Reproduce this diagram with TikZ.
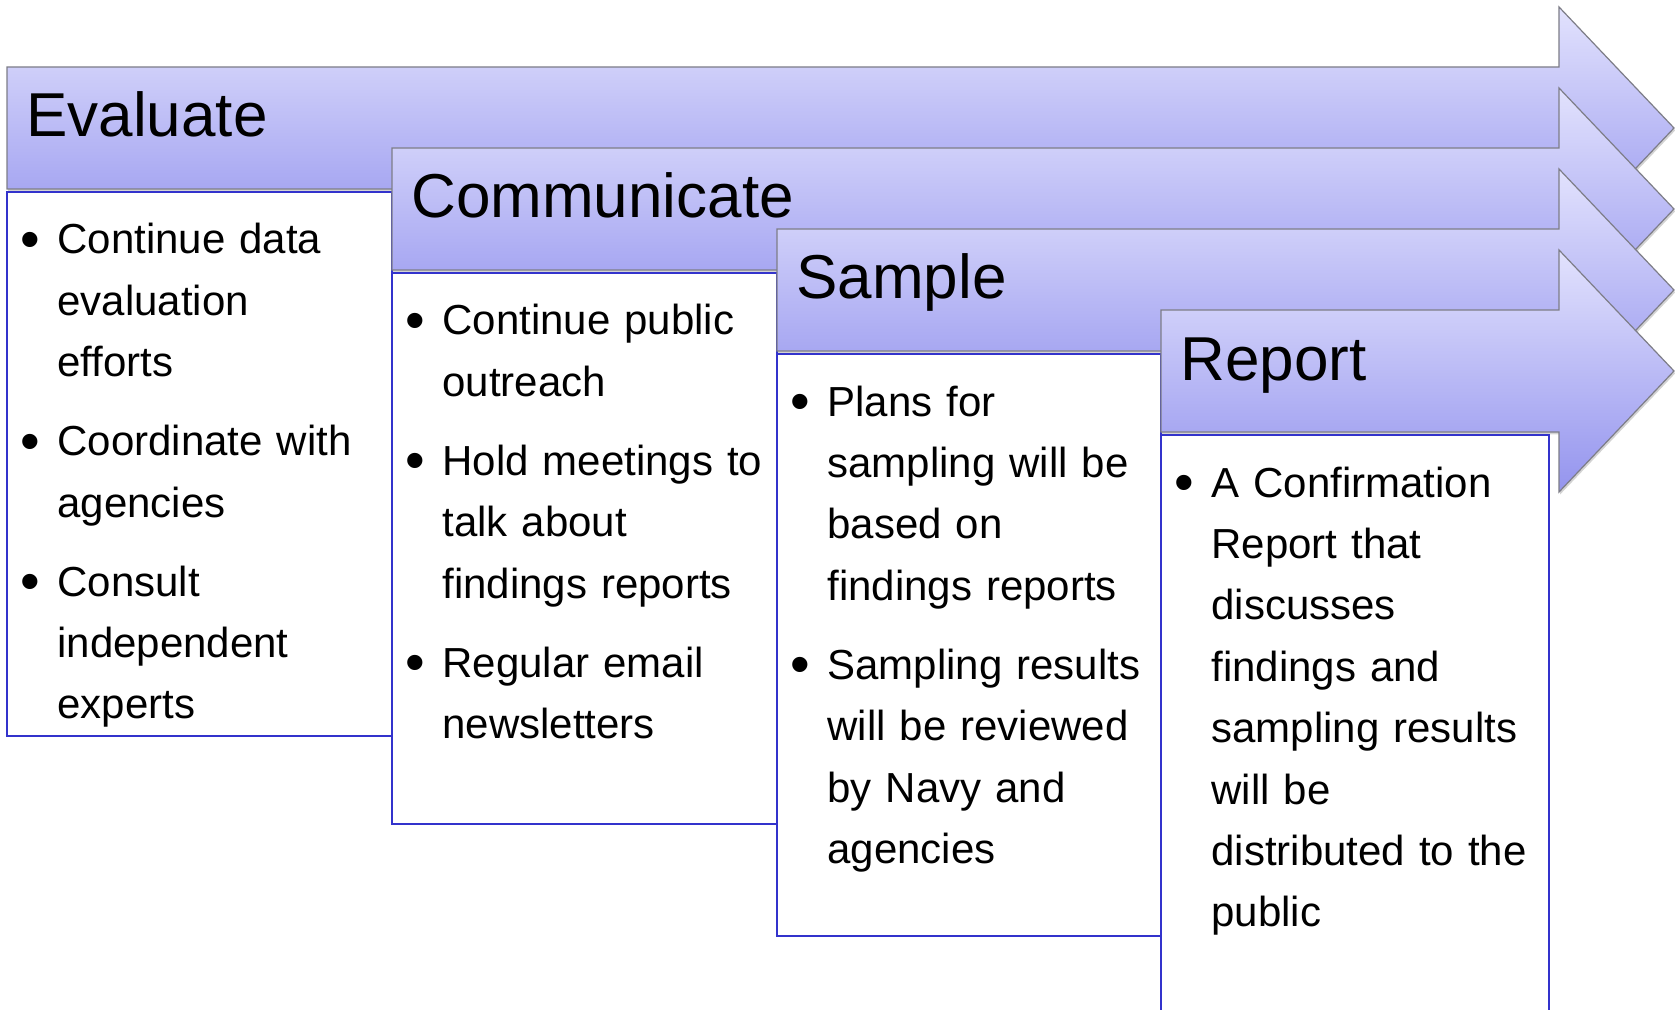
\documentclass[tikz,border=0pt]{standalone}
\usepackage{fontspec}
\setmainfont{Liberation Sans}
\usepackage{tikz}
\usetikzlibrary{shadows}
\definecolor{stagetop}{RGB}{226,226,253}
\definecolor{stagebot}{RGB}{148,148,238}
\definecolor{stageline}{RGB}{125,125,135}
\definecolor{boxline}{RGB}{51,51,204}
\newcommand{\bul}{\leavevmode\llap{\raisebox{-2.2pt}{\fontsize{28}{28}\selectfont\textbullet}\hspace{8.6pt}}}
\tikzstyle{stagearrow}=[draw=stageline, line width=0.6pt, top color=stagetop, bottom color=stagebot, drop shadow={shadow xshift=0.6pt, shadow yshift=-1.2pt, opacity=0.35}]
\tikzstyle{stagebox}=[draw=boxline, line width=1.2pt, fill=white]
\tikzstyle{stagetitle}=[anchor=base west, inner sep=0pt, font=\fontsize{31}{37}\selectfont]
\tikzstyle{stagetext}=[anchor=base west, inner sep=0pt, text width=175pt, align=left, font=\fontsize{21}{30.7}\selectfont, execute at begin node={\setlength{\parskip}{8.8pt}}]

\begin{document}
\begin{tikzpicture}[x=0.5pt, y=-0.5pt]
    \useasboundingbox (0,0) rectangle (1675,1010);
    \clip (0,0) rectangle (1675,1010);
    % evaluate
    \draw[stagearrow] (7,67) -- (1559,67) -- (1559,7) -- (1674,128) -- (1559,249) -- (1559,189) -- (7,189) -- cycle;
    \draw[stagebox] (7,192) rectangle (392,736);
    \node[stagetitle] (evaltitle) at (26,137) {Evaluate};
    \node[stagetext]  (evaltext)  at (57,254) {\bul Continue data\\ evaluation\\ efforts\par
        \bul Coordinate with\\ agencies\par
        \bul Consult\\ independent\\ experts};
    % communicate
    \draw[stagearrow] (392,148) -- (1559,148) -- (1559,88) -- (1674,209) -- (1559,330) -- (1559,270) -- (392,270) -- cycle;
    \draw[stagebox] (392,273) rectangle (777,824);
    \node[stagetitle] (commtitle) at (411,218) {Communicate};
    \node[stagetext]  (commtext)  at (442,335) {\bul Continue public\\ outreach\par
        \bul Hold meetings to\\ talk about\\ findings reports\par
        \bul Regular email\\ newsletters};
    % sample
    \draw[stagearrow] (777,229) -- (1559,229) -- (1559,169) -- (1674,290) -- (1559,411) -- (1559,351) -- (777,351) -- cycle;
    \draw[stagebox] (777,354) rectangle (1161,936);
    \node[stagetitle] (samptitle) at (796,299) {Sample};
    \node[stagetext]  (samptext)  at (827,416) {\bul Plans for\\ sampling will be\\ based on\\ findings reports\par
        \bul Sampling results\\ will be reviewed\\ by Navy and\\ agencies};
    % report
    \draw[stagearrow] (1161,310) -- (1559,310) -- (1559,250) -- (1674,371) -- (1559,492) -- (1559,432) -- (1161,432) -- cycle;
    \draw[stagebox] (1161,435) rectangle (1549,1030);
    \node[stagetitle] (reptitle) at (1180,380) {Report};
    \node[stagetext]  (reptext)  at (1211,497) {\bul A Confirmation\\ Report that\\ discusses\\ findings and\\ sampling results\\ will be\\ distributed to the\\ public};
\end{tikzpicture}
\end{document}
